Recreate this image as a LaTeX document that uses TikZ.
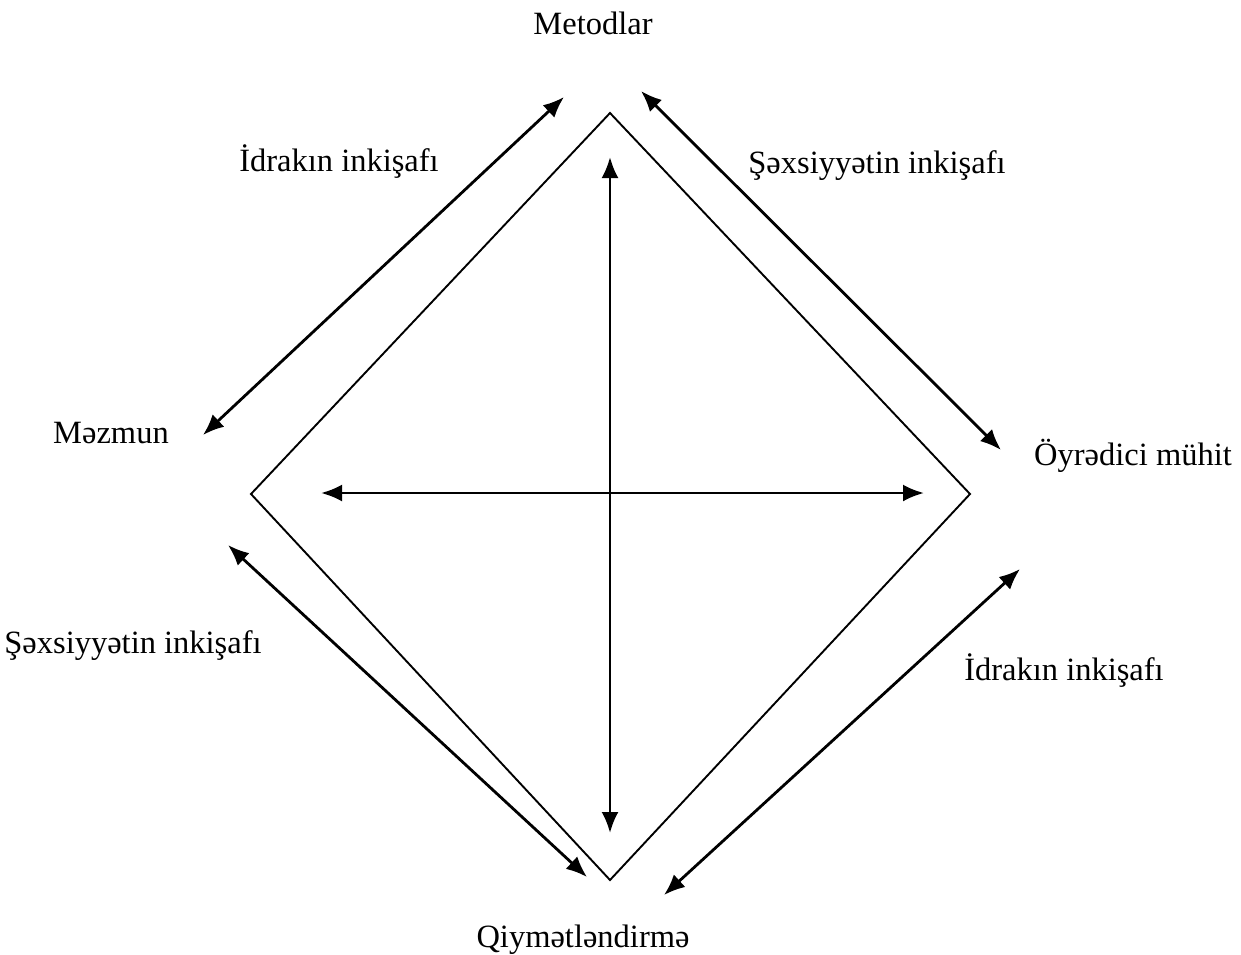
\documentclass[tikz,border=0pt]{standalone}
\usepackage{fontspec}
\setmainfont{Liberation Serif}
\usetikzlibrary{arrows.meta}
\begin{document}
\begin{tikzpicture}[x=1pt,y=-1pt,
  lbl/.style={font=\fontsize{32.5}{38}\selectfont, inner sep=0pt},
  link/.style={line width=2.8pt, {Latex[length=21pt,width=17pt]}-{Latex[length=21pt,width=17pt]}},
  frame/.style={line width=1.9pt, line join=miter}]
\useasboundingbox (0,0) rectangle (1241,954);

% diamond corners
\coordinate (dt) at (610,113);
\coordinate (dr) at (970,494);
\coordinate (db) at (610,880);
\coordinate (dl) at (251,494);
\draw[frame] (dt) -- (dr) -- (db) -- (dl) -- cycle;

% inner cross
\coordinate (vt) at (610,157);
\coordinate (vb) at (610,833);
\coordinate (hl) at (321,493);
\coordinate (hr) at (924,493);
\draw[link] (vt) -- (vb);
\draw[link] (hl) -- (hr);

% outer double arrows
\coordinate (a1) at (203,435); \coordinate (a2) at (564,97);
\coordinate (b1) at (641,91);  \coordinate (b2) at (1001,450);
\coordinate (c1) at (228,545); \coordinate (c2) at (587,877);
\coordinate (d1) at (1020,569); \coordinate (d2) at (664,895);
\draw[link] (a1) -- (a2);
\draw[link] (b1) -- (b2);
\draw[link] (c1) -- (c2);
\draw[link] (d1) -- (d2);

% labels
\node[lbl] (top) at (593,23) {Metodlar};
\node[lbl] (tl) at (339,162) {İdrakın inkişafı};
\node[lbl] (tr) at (877,166) {Şəxsiyyətin inkişafı};
\node[lbl] (left) at (111,433) {Məzmun};
\node[lbl] (right) at (1133,456) {Öyrədici mühit};
\node[lbl] (bl) at (133,646) {Şəxsiyyətin inkişafı};
\node[lbl] (br) at (1064,671) {İdrakın inkişafı};
\node[lbl] (bottom) at (583,940) {Qiymətləndirmə};
\end{tikzpicture}
\end{document}
